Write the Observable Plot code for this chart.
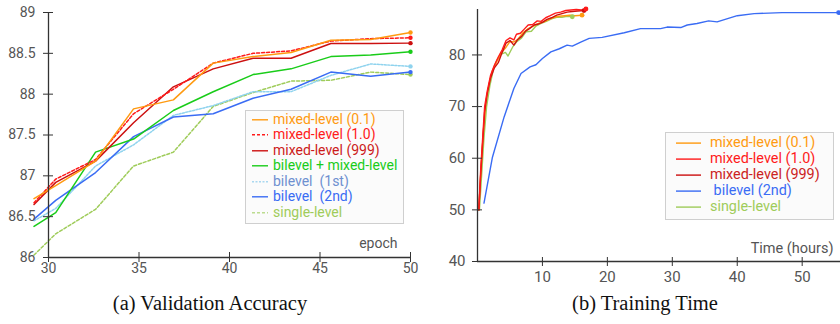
<!DOCTYPE html>
<html>
<head>
<meta charset="utf-8">
<script src="https://cdn.jsdelivr.net/npm/d3@7"></script>
<script src="https://cdn.jsdelivr.net/npm/@observablehq/plot@0.6"></script>
<style>
  body { margin: 0; background: #fff; }
  #wrap { position: relative; width: 840px; height: 324px; overflow: hidden; font-family: Roboto, sans-serif; }
  .panel { position: absolute; top: 0; }
  .cap { position: absolute; top: 289px; width: 420px; text-align: center; font-family: "Liberation Serif", "Times New Roman", serif; font-size: 20.5px; line-height: 28px; color: #111; }
  .legend { position: absolute; background: #fbfbfb; border: 1.5px solid #cfcfcf; box-sizing: border-box; }
  .row { position: relative; white-space: nowrap; }
  .row svg { position: absolute; top: 0; }
  .row span { position: absolute; top: 0; display: block; overflow: visible; }
</style>
</head>
<body>
<div id="wrap"></div>
<script>
// ---------- Panel (a): Validation Accuracy ----------
const epochs     = [29.2, 30.4, 32.6, 34.7, 36.9, 39.1, 41.3, 43.4, 45.6, 47.8, 50];
const mixed01    = [86.72, 86.88, 87.18, 87.82, 87.93, 88.38, 88.46, 88.51, 88.66, 88.67, 88.755];
const mixed10    = [86.67, 86.96, 87.20, 87.76, 88.06, 88.38, 88.50, 88.53, 88.65, 88.68, 88.69];
const mixed999   = [86.65, 86.92, 87.18, 87.65, 88.09, 88.31, 88.44, 88.44, 88.62, 88.62, 88.625];
const biMixed    = [86.38, 86.55, 87.29, 87.45, 87.80, 88.03, 88.24, 88.31, 88.46, 88.48, 88.52];
const bilevel1st = [86.45, 86.60, 87.12, 87.38, 87.74, 87.86, 88.03, 88.03, 88.23, 88.37, 88.34];
const bilevel2nd = [86.47, 86.70, 87.04, 87.48, 87.72, 87.76, 87.95, 88.06, 88.27, 88.22, 88.27];
const singleLvl  = [86.03, 86.29, 86.59, 87.12, 87.29, 87.85, 88.02, 88.16, 88.17, 88.27, 88.24];
const accXTicks = [30, 35, 40, 45, 50];
const accYTicks = [86, 86.5, 87, 87.5, 88, 88.5, 89];
const accYLabels = ["86", "86.5", "87", "87.5", "88", "88.5", "89"];

// ---------- Panel (b): Training Time ----------
const hMixed10 = [0.2, 0.5, 0.8, 1.1, 1.5, 2.0, 2.6, 3.2, 3.8, 4.4, 5.0, 5.6, 6.0, 6.6, 7.2, 7.8, 8.5, 9.2, 9.8, 10.5, 11.2, 12.0, 12.8, 13.6, 14.4, 15.2, 16.0, 16.7];
const vMixed10 = [50, 58, 64, 70, 73, 76, 78, 79.6, 81, 82.8, 83.3, 82.9, 84, 84.2, 85, 85.8, 85.9, 86.6, 86.5, 87.2, 87.6, 88.1, 88.3, 88.6, 88.7, 88.8, 88.7, 88.9];
const hMixed999 = [0.2, 0.5, 0.8, 1.1, 1.5, 2.0, 2.6, 3.2, 3.8, 4.4, 5.0, 5.6, 6.2, 6.8, 7.4, 8.0, 8.7, 9.4, 10.0, 10.7, 11.4, 12.2, 13.0, 13.8, 14.6, 15.4, 16.4];
const vMixed999 = [50, 57, 63, 69, 72.5, 75.5, 77.5, 78.5, 80.5, 82.3, 82.8, 81.9, 83, 83.6, 84.6, 85.1, 85.8, 86, 86.3, 86.9, 87.2, 87.7, 88.0, 88.3, 88.4, 88.5, 88.6];
const hMixed01 = [0.2, 0.5, 0.9, 1.3, 1.8, 2.3, 3.0, 3.6, 4.4, 5.0, 5.6, 6.2, 7.0, 7.8, 8.6, 9.4, 10.2, 11.0, 11.8, 12.6, 13.4, 14.2, 15.0, 16.1];
const vMixed01 = [50, 57, 65, 71, 74.5, 77, 78.8, 80.3, 81.5, 82.6, 82.5, 83, 84.3, 85.1, 85.6, 86.1, 86.4, 86.9, 87.3, 87.5, 87.6, 87.7, 87.6, 87.7];
const hSingle = [0.3, 0.6, 1.0, 1.4, 1.9, 2.5, 3.0, 3.6, 4.3, 4.7, 5.4, 6.0, 6.8, 7.5, 8.3, 9.0, 9.8, 10.6, 11.4, 12.2, 13.0, 13.8, 14.6];
const vSingle = [50, 56, 64, 70, 74, 77.5, 79, 80.1, 80.5, 79.8, 81.5, 82.5, 83.3, 84.5, 84.6, 85.6, 86.1, 86.5, 87.0, 87.3, 87.3, 87.5, 87.4];
const hBilevel = [1.0, 2.3, 4.1, 5.6, 6.7, 8.1, 9.0, 10.0, 11.3, 12.6, 13.8, 14.6, 15.9, 17.2, 19.2, 22.6, 25.1, 28.2, 29.2, 31.3, 32.3, 33.8, 35.6, 36.9, 40.0, 42.6, 46.9, 50.2, 55.6];
const vBilevel = [51.3, 60.2, 68.0, 73.5, 76.4, 77.7, 78.1, 79.3, 80.6, 81.2, 81.9, 81.7, 82.5, 83.2, 83.4, 84.3, 85.1, 85.1, 85.4, 85.3, 85.8, 86.1, 86.6, 86.4, 87.6, 88.0, 88.2, 88.2, 88.2];
const timeXTicks = [10, 20, 30, 40, 50];
const timeYTicks = [40, 50, 60, 70, 80];

// colours
const C = {
  orange: "#ff9a10", red: "#ff1a1a", dark: "#cc1010", green: "#19cc19",
  sky: "#8fd3ee", blue: "#3a6cf4", olive: "#9fcc5a"
};

const pts = (xs, ys) => xs.map((x, i) => ({x, y: ys[i]}));
const last = (xs, ys) => [{x: xs[xs.length - 1], y: ys[ys.length - 1]}];

const accSeries = [
  {v: singleLvl, c: C.olive, dash: "3,2"},
  {v: bilevel1st, c: C.sky, dash: "2,1.5"},
  {v: bilevel2nd, c: C.blue},
  {v: biMixed, c: C.green},
  {v: mixed999, c: C.dark},
  {v: mixed10, c: C.red, dash: "3,2"},
  {v: mixed01, c: C.orange}
];

const axisColor = "#333";
const accMarks = [];
for (const s of accSeries) {
  accMarks.push(Plot.line(pts(epochs, s.v), {x: "x", y: "y", stroke: s.c, strokeWidth: 1.5, strokeDasharray: s.dash}));
}
for (const s of accSeries) {
  accMarks.push(Plot.dot(last(epochs, s.v), {x: "x", y: "y", fill: s.c, r: 2.2}));
}

const accPlot = Plot.plot({
  width: 420, height: 290,
  marginLeft: 48, marginRight: 10, marginTop: 12, marginBottom: 33,
  style: {fontFamily: "Roboto", fontSize: "14px", color: "#555", background: "transparent", overflow: "visible"},
  x: {domain: [30, 50]},
  y: {domain: [86, 89]},
  marks: [
    ...accMarks,
    Plot.ruleX([30], {stroke: axisColor, strokeWidth: 1.3}),
    Plot.ruleY([86], {stroke: axisColor, strokeWidth: 1.3}),
    Plot.axisY({ticks: accYTicks, tickSize: 10, dx: 5, tickFormat: () => "", stroke: axisColor, label: null}),
    Plot.axisY({ticks: accYTicks, tickSize: 0, tickPadding: 13, tickFormat: (d, i) => accYLabels[i], label: null}),
    Plot.axisX({ticks: accXTicks, tickSize: 10, dy: -5, tickFormat: () => "", stroke: axisColor, label: null}),
    Plot.axisX({ticks: accXTicks, tickSize: 0, tickPadding: 6, label: null}),
    Plot.text(["epoch"], {frameAnchor: "bottom-right", dx: -13, dy: -14, textAnchor: "end", lineAnchor: "middle", fontSize: 14, fill: "#555"})
  ]
});

const timeSeries = [
  {h: hBilevel, v: vBilevel, c: C.blue},
  {h: hSingle, v: vSingle, c: C.olive},
  {h: hMixed01, v: vMixed01, c: C.orange},
  {h: hMixed999, v: vMixed999, c: C.dark},
  {h: hMixed10, v: vMixed10, c: C.red}
];
const timeMarks = [];
for (const s of timeSeries) timeMarks.push(Plot.line(pts(s.h, s.v), {x: "x", y: "y", stroke: s.c, strokeWidth: 1.4}));
for (const s of timeSeries) timeMarks.push(Plot.dot(last(s.h, s.v), {x: "x", y: "y", fill: s.c, r: 2.4}));

const timePlot = Plot.plot({
  width: 420, height: 290,
  marginLeft: 57, marginRight: 0, marginTop: 9, marginBottom: 29,
  style: {fontFamily: "Roboto", fontSize: "15px", color: "#555", background: "transparent", overflow: "visible"},
  x: {domain: [0, 55.9]},
  y: {domain: [40, 88.8]},
  marks: [
    ...timeMarks,
    Plot.ruleX([0], {stroke: axisColor, strokeWidth: 1.3}),
    Plot.ruleY([40], {stroke: axisColor, strokeWidth: 1.3}),
    Plot.axisY({ticks: timeYTicks, tickSize: 10, dx: 5, tickFormat: () => "", stroke: axisColor, label: null}),
    Plot.axisY({ticks: timeYTicks, tickSize: 0, tickPadding: 12, label: null}),
    Plot.axisX({ticks: timeXTicks, tickSize: 9, dy: -4, tickFormat: () => "", stroke: axisColor, label: null}),
    Plot.axisX({ticks: timeXTicks, tickSize: 0, tickPadding: 10, label: null}),
    Plot.text(["Time (hours)"], {frameAnchor: "bottom-right", dx: -7, dy: -13.5, textAnchor: "end", lineAnchor: "middle", fontSize: 14.5, fill: "#555"})
  ]
});

const wrap = document.getElementById("wrap");
const p1 = document.createElement("div"); p1.className = "panel"; p1.style.left = "0px"; p1.appendChild(accPlot); wrap.appendChild(p1);
const p2 = document.createElement("div"); p2.className = "panel"; p2.style.left = "420px"; p2.appendChild(timePlot); wrap.appendChild(p2);

const cap1 = document.createElement("div"); cap1.className = "cap"; cap1.style.left = "0px"; cap1.textContent = "(a) Validation Accuracy"; wrap.appendChild(cap1);
const cap2 = document.createElement("div"); cap2.className = "cap"; cap2.style.left = "435px"; cap2.textContent = "(b) Training Time"; wrap.appendChild(cap2);

// legends
const accLegendLabels = ["mixed-level (0.1)", "mixed-level (1.0)", "mixed-level (999)", "bilevel + mixed-level", "bilevel  (1st)", "bilevel  (2nd)", "single-level"];
const accLegendStyle = [
  {c: C.orange, t: "#ff9a10"}, {c: C.red, t: "#ff1a1a", dash: "3,2"}, {c: C.dark, t: "#cc1a1a"},
  {c: C.green, t: "#19cc19"}, {c: "#a9d8f0", t: "#6e90d0", dash: "2,1.5"}, {c: C.blue, t: "#3a6cf4"},
  {c: "#bcdc90", t: "#9fcc5a", dash: "3,2"}
];
const timeLegendLabels = ["mixed-level (0.1)", "mixed-level (1.0)", "mixed-level (999)", " bilevel (2nd)", "single-level"];
const timeLegendStyle = [
  {c: C.orange, t: "#ff9a10"}, {c: C.red, t: "#ff1a1a"}, {c: C.dark, t: "#cc2222"},
  {c: C.blue, t: "#3a6cf4"}, {c: C.olive, t: "#9fcc5a"}
];

function legend(labels, styles, o) {
  const box = document.createElement("div");
  box.className = "legend";
  Object.assign(box.style, {left: o.left + "px", top: o.top + "px", width: o.width + "px", height: o.height + "px", paddingTop: o.padTop + "px"});
  labels.forEach((lab, i) => {
    const st = styles[i];
    const row = document.createElement("div");
    row.className = "row";
    row.style.height = o.rowH + "px";
    row.innerHTML = `<svg width="${o.lineX1 + 2}" height="${o.rowH}" style="left:0"><line x1="${o.lineX0}" x2="${o.lineX1}" y1="${o.rowH / 2}" y2="${o.rowH / 2}" stroke="${st.c}" stroke-width="1.4" ${st.dash ? `stroke-dasharray="${st.dash}"` : ""}/></svg>` +
      `<span style="left:${o.textX}px; height:${o.rowH - 0.5}px; color:${st.t}; font-size:${o.font}px; line-height:${o.rowH - 0.5}px; white-space:pre">${lab}</span>`;
    box.appendChild(row);
  });
  wrap.appendChild(box);
}
legend(accLegendLabels, accLegendStyle, {left: 245, top: 110, width: 159, height: 114, padTop: 0.5, rowH: 15.6, lineX0: 6, lineX1: 22, textX: 27, font: 14});
legend(timeLegendLabels, timeLegendStyle, {left: 665, top: 132, width: 169, height: 88, padTop: 1.5, rowH: 16.2, lineX0: 10, lineX1: 35, textX: 44, font: 14.4});
</script>
</body>
</html>
